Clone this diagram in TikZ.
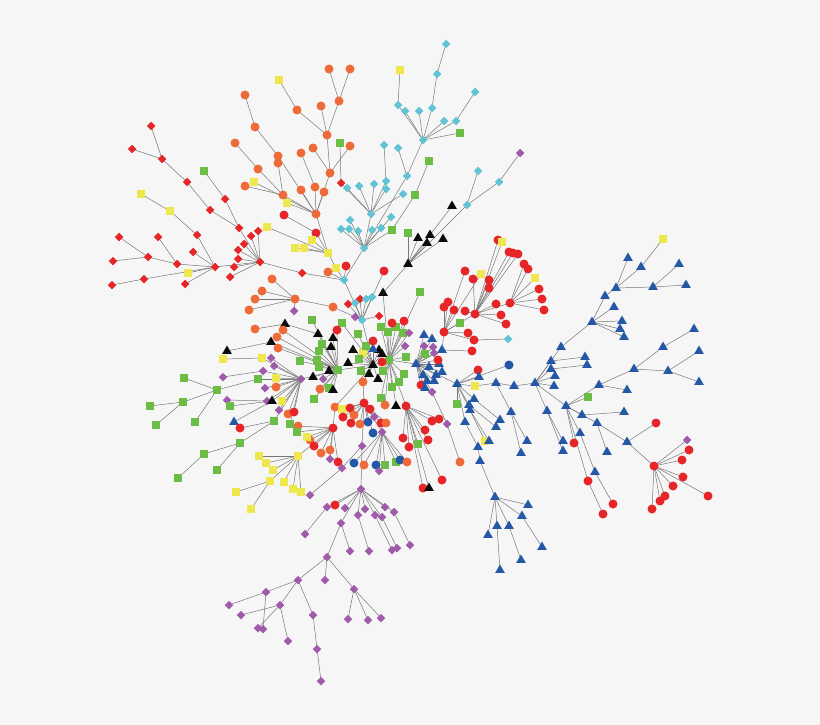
\documentclass[tikz,border=0pt]{standalone}
\usetikzlibrary{shapes.geometric}
\definecolor{cR}{RGB}{229,37,40}
\definecolor{cO}{RGB}{238,106,56}
\definecolor{cY}{RGB}{238,232,78}
\definecolor{cG}{RGB}{108,189,69}
\definecolor{cC}{RGB}{96,196,210}
\definecolor{cP}{RGB}{160,90,170}
\definecolor{cB}{RGB}{36,87,166}
\definecolor{cK}{RGB}{10,10,10}
\definecolor{bgc}{RGB}{246,246,246}
\definecolor{edgec}{RGB}{120,120,120}
\tikzset{
 base/.style={inner sep=0pt, outer sep=0pt, draw=none},
 rc/.style={base, circle, fill=cR, minimum size=9pt},
 oc/.style={base, circle, fill=cO, minimum size=9pt},
 bc/.style={base, circle, fill=cB, minimum size=9pt},
 ys/.style={base, rectangle, fill=cY, minimum size=8pt},
 gs/.style={base, rectangle, fill=cG, minimum size=8pt},
 rd/.style={base, diamond, fill=cR, minimum size=8.5pt},
 cd/.style={base, diamond, fill=cC, minimum size=8.5pt},
 pd/.style={base, diamond, fill=cP, minimum size=8.5pt},
 bt/.style={base, regular polygon, regular polygon sides=3, fill=cB, minimum size=11pt},
 kt/.style={base, regular polygon, regular polygon sides=3, fill=cK, minimum size=11pt},
 edge/.style={draw=edgec, line width=0.5pt}
}
\newcommand\Nedge[5]{\coordinate (#1) at (#2,#3);\ifx\relax#5\relax\else\draw[edge] (#5) -- (#1);\fi}
\newcommand\Nnode[5]{\node[#4] (#1) at (#2,#3) {};}
\newcommand\graphlist{%
\N{G1}{389}{360}{gs}{}
\N{B1}{373}{365}{kt}{G1}
\N{B2}{338}{370}{gs}{B1}
\N{HC}{362}{320}{cd}{B1}
\N{P1}{301}{379}{pd}{B2}
\N{BL1}{416}{364}{bt}{G1}
\N{R1}{406}{406}{rc}{G1}
\N{o363}{363}{382}{oc}{B1}
\N{R2}{364}{403}{rc}{o363}
\N{o335}{335}{407}{oc}{B1}
\N{R4}{333}{428}{rc}{o335}
\N{Y1}{298}{456}{ys}{R4}
\N{p382}{382}{432}{pd}{R2}
\N{p362}{362}{446}{pd}{R2}
\N{P2}{361}{489}{pd}{p362}
\N{c344}{344}{280}{cd}{HC}
\N{y336}{336}{268}{ys}{c344}
\N{y328}{328}{253}{ys}{y336}
\N{O1}{316}{214}{oc}{y328}
\N{C3}{364}{248}{cd}{c344}
\N{C2}{371}{214}{cd}{C3}
\N{c407}{407}{176}{cd}{C3}
\N{C1}{423}{140}{cd}{c407}
\N{rd302}{302}{273}{rd}{c344}
\N{RD1}{260}{262}{rd}{rd302}
\N{o333}{333}{307}{oc}{HC}
\N{O2}{295}{299}{oc}{o333}
\N{k383}{383}{293}{kt}{G1}
\N{BK2}{408}{264}{kt}{k383}
\N{a1}{348}{304}{rd}{HC}
\N{a2}{355}{303}{cd}{HC}
\N{a3}{360}{299}{rd}{HC}
\N{a4}{366}{299}{cd}{HC}
\N{a5}{372}{297}{cd}{HC}
\N{a6}{355}{317}{pd}{HC}
\N{a7}{379}{316}{rd}{HC}
\N{a8}{384}{271}{rc}{HC}
\N{a9}{346}{266}{rc}{c344}
\N{a10}{328}{272}{oc}{c344}
\N{g1}{381}{327}{gs}{G1}
\N{g2}{388}{332}{gs}{G1}
\N{g3}{396}{327}{gs}{G1}
\N{g4}{403}{333}{gs}{G1}
\N{g5}{392}{323}{rc}{G1}
\N{g6}{404}{321}{rc}{G1}
\N{g7}{409}{333}{pd}{G1}
\N{g8}{405}{346}{pd}{G1}
\N{g9}{406}{357}{gs}{G1}
\N{g10}{404}{374}{gs}{G1}
\N{g11}{399}{382}{gs}{G1}
\N{g12}{392}{387}{gs}{G1}
\N{g13}{381}{398}{gs}{G1}
\N{g14}{385}{405}{oc}{G1}
\N{g15}{396}{406}{kt}{G1}
\N{g16}{420}{292}{gs}{G1}
\N{g17}{382}{362}{rc}{G1}
\N{g18}{383}{371}{gs}{G1}
\N{b1}{369}{374}{kt}{B1}
\N{b2}{378}{379}{kt}{B1}
\N{b3}{379}{350}{kt}{B1}
\N{b4}{382}{354}{kt}{B1}
\N{b5}{373}{349}{bt}{B1}
\N{b6}{363}{353}{ys}{B1}
\N{b7}{366}{346}{gs}{B1}
\N{b8}{353}{350}{kt}{B1}
\N{b9}{359}{359}{gs}{B1}
\N{b10}{348}{363}{kt}{B1}
\N{b11}{361}{371}{gs}{B1}
\N{b12}{358}{334}{gs}{B1}
\N{b13}{373}{341}{rc}{B1}
\N{b14}{342}{323}{gs}{B1}
\N{d1}{333}{338}{kt}{B2}
\N{d2}{331}{347}{kt}{B2}
\N{d3}{322}{344}{gs}{B2}
\N{d4}{319}{351}{gs}{B2}
\N{d5}{317}{360}{gs}{B2}
\N{d6}{319}{367}{gs}{B2}
\N{d7}{329}{371}{kt}{B2}
\N{d8}{313}{377}{kt}{B2}
\N{d9}{323}{379}{pd}{B2}
\N{d10}{320}{389}{oc}{B2}
\N{d11}{329}{388}{gs}{B2}
\N{d12}{333}{390}{kt}{B2}
\N{d13}{314}{399}{gs}{B2}
\N{d14}{337}{330}{rc}{B2}
\N{d15}{312}{320}{gs}{B2}
\N{d16}{318}{334}{kt}{B2}
\N{d17}{285}{324}{kt}{d16}
\N{d18}{255}{329}{oc}{d17}
\N{d19}{283}{330}{oc}{B2}
\N{d20}{277}{337}{oc}{B2}
\N{d21}{271}{342}{kt}{B2}
\N{d22}{227}{351}{kt}{d21}
\N{d23}{278}{348}{oc}{B2}
\N{d24}{300}{361}{gs}{B2}
\N{e1}{271}{358}{pd}{P1}
\N{e2}{262}{358}{ys}{P1}
\N{e3}{223}{359}{ys}{e2}
\N{e4}{274}{366}{pd}{P1}
\N{e5}{263}{371}{pd}{P1}
\N{e6}{223}{377}{pd}{e5}
\N{e7}{258}{379}{gs}{P1}
\N{GL}{217}{390}{gs}{e7}
\N{e8}{276}{378}{ys}{P1}
\N{e9}{276}{387}{oc}{P1}
\N{e10}{265}{388}{pd}{P1}
\N{e11}{267}{401}{pd}{P1}
\N{e12}{227}{400}{pd}{e11}
\N{e13}{272}{401}{kt}{P1}
\N{e14}{230}{406}{gs}{e13}
\N{e15}{234}{422}{bt}{e13}
\N{e16}{282}{401}{ys}{P1}
\N{e17}{279}{410}{pd}{P1}
\N{e18}{274}{421}{gs}{P1}
\N{e19}{240}{428}{rc}{e18}
\N{e20}{240}{443}{gs}{e18}
\N{e21}{288}{414}{oc}{P1}
\N{e22}{294}{412}{rc}{P1}
\N{e23}{290}{424}{gs}{P1}
\N{f1}{184}{378}{gs}{GL}
\N{f2}{183}{402}{gs}{GL}
\N{f3}{150}{406}{gs}{f2}
\N{f4}{156}{425}{gs}{f2}
\N{f5}{195}{422}{gs}{GL}
\N{f6}{204}{454}{gs}{e20}
\N{f7}{178}{478}{gs}{f6}
\N{f8}{217}{470}{gs}{e20}
\N{h1}{272}{279}{oc}{O2}
\N{h2}{262}{291}{oc}{O2}
\N{h3}{255}{299}{oc}{O2}
\N{h4}{249}{310}{oc}{O2}
\N{h5}{294}{311}{pd}{O2}
\N{i1}{310}{440}{oc}{R4}
\N{i2}{314}{446}{rc}{R4}
\N{i3}{321}{453}{oc}{R4}
\N{i4}{330}{450}{oc}{R4}
\N{i5}{330}{459}{pd}{R4}
\N{i6}{338}{462}{rc}{R4}
\N{i7}{307}{437}{ys}{R4}
\N{i8}{298}{426}{oc}{R4}
\N{i9}{297}{432}{gs}{R4}
\N{j1}{342}{409}{ys}{R2}
\N{j2}{350}{408}{rc}{R2}
\N{j3}{343}{417}{rc}{R2}
\N{j4}{351}{423}{rc}{R2}
\N{j5}{360}{424}{oc}{R2}
\N{j6}{368}{422}{bc}{R2}
\N{j7}{373}{433}{bc}{R2}
\N{j8}{374}{417}{pd}{R2}
\N{j9}{381}{423}{rc}{R2}
\N{j10}{386}{423}{oc}{R2}
\N{j11}{354}{415}{oc}{R2}
\N{j12}{370}{409}{rc}{R2}
\N{k1}{354}{463}{bc}{p382}
\N{k2}{364}{465}{oc}{p382}
\N{k3}{376}{465}{bc}{p382}
\N{k4}{379}{471}{pd}{p382}
\N{k5}{385}{465}{gs}{p382}
\N{k6}{396}{462}{gs}{p382}
\N{k7}{400}{460}{bc}{p382}
\N{k8}{407}{462}{oc}{p382}
\N{k9}{342}{468}{pd}{p362}
\N{k10}{310}{495}{pd}{k9}
\N{l1}{259}{456}{ys}{Y1}
\N{l2}{266}{463}{ys}{Y1}
\N{l3}{273}{470}{ys}{Y1}
\N{l4}{270}{481}{ys}{Y1}
\N{l5}{236}{492}{ys}{l4}
\N{l6}{251}{509}{ys}{l4}
\N{l7}{284}{482}{ys}{Y1}
\N{l8}{293}{489}{ys}{Y1}
\N{l9}{301}{492}{ys}{Y1}
\N{m1}{335}{505}{rc}{P2}
\N{m2}{327}{507}{pd}{P2}
\N{m3}{305}{534}{pd}{m2}
\N{m4}{345}{508}{pd}{P2}
\N{m5}{365}{509}{pd}{P2}
\N{m6}{358}{515}{pd}{P2}
\N{m7}{369}{551}{pd}{m6}
\N{m8}{375}{515}{pd}{P2}
\N{m9}{392}{550}{pd}{m8}
\N{m10}{382}{517}{pd}{P2}
\N{m11}{397}{548}{pd}{m10}
\N{m12}{385}{507}{pd}{P2}
\N{m13}{394}{512}{pd}{P2}
\N{m14}{410}{545}{pd}{m13}
\N{m15}{341}{523}{pd}{P2}
\N{m16}{350}{551}{pd}{m15}
\N{m17}{327}{557}{pd}{m15}
\N{m18}{298}{580}{pd}{m17}
\N{m19}{325}{580}{pd}{m17}
\N{m20}{354}{589}{pd}{m17}
\N{m21}{266}{592}{pd}{m18}
\N{m22}{280}{605}{pd}{m18}
\N{m23}{313}{615}{pd}{m18}
\N{m24}{229}{605}{pd}{m21}
\N{m25}{263}{629}{pd}{m21}
\N{m26}{241}{615}{pd}{m22}
\N{m27}{258}{628}{pd}{m22}
\N{m28}{288}{641}{pd}{m22}
\N{m29}{317}{649}{pd}{m23}
\N{m30}{321}{681}{pd}{m29}
\N{m31}{348}{619}{pd}{m20}
\N{m32}{368}{620}{pd}{m20}
\N{m33}{381}{618}{pd}{m20}
\N{n1}{424}{335}{bt}{BL1}
\N{n2}{432}{339}{bt}{BL1}
\N{n3}{442}{350}{bt}{BL1}
\N{n4}{424}{346}{pd}{BL1}
\N{n5}{433}{347}{pd}{BL1}
\N{n6}{434}{353}{pd}{BL1}
\N{n7}{425}{354}{gs}{BL1}
\N{n8}{429}{367}{bt}{BL1}
\N{n9}{439}{364}{bt}{BL1}
\N{n10}{442}{372}{bt}{BL1}
\N{n11}{438}{360}{rc}{BL1}
\N{n12}{421}{385}{rc}{BL1}
\N{n13}{423}{375}{bt}{BL1}
\N{n14}{436}{375}{bt}{BL1}
\N{n15}{434}{381}{bt}{BL1}
\N{n16}{427}{381}{bt}{BL1}
\N{n17}{425}{388}{bt}{BL1}
\N{n18}{432}{392}{pd}{BL1}
\N{n19}{447}{424}{pd}{n18}
\N{n20}{460}{462}{oc}{n19}
\N{BL3}{457}{384}{bt}{BL1}
\N{RC1}{444}{332}{rc}{n3}
\N{r1}{444}{307}{rc}{RC1}
\N{r2}{448}{302}{rc}{RC1}
\N{r3}{454}{310}{rc}{RC1}
\N{r4}{460}{323}{gs}{RC1}
\N{r5}{468}{333}{rc}{RC1}
\N{r6}{474}{340}{rc}{RC1}
\N{r7}{508}{339}{cd}{r6}
\N{r8}{465}{271}{rc}{RC1}
\N{r9}{481}{274}{ys}{RC1}
\N{r10}{472}{351}{rc}{n3}
\N{RC2}{475}{314}{rc}{RC1}
\N{r11}{465}{311}{rc}{RC2}
\N{r12}{473}{279}{rc}{RC2}
\N{r13}{489}{280}{rc}{RC2}
\N{r14}{489}{288}{rc}{RC2}
\N{r15}{498}{240}{rc}{RC2}
\N{r16}{502}{242}{ys}{RC2}
\N{r17}{509}{252}{rc}{RC2}
\N{r18}{513}{253}{rc}{RC2}
\N{r19}{518}{254}{rc}{RC2}
\N{r20}{496}{304}{rc}{RC2}
\N{r21}{501}{315}{rc}{RC2}
\N{r22}{506}{324}{rc}{RC2}
\N{RC3}{510}{303}{rc}{RC2}
\N{r23}{524}{264}{rc}{RC3}
\N{r24}{528}{269}{rc}{RC3}
\N{r25}{535}{278}{ys}{RC3}
\N{r26}{539}{289}{rc}{RC3}
\N{r27}{542}{299}{rc}{RC3}
\N{r28}{544}{310}{rc}{RC3}
\N{s1}{478}{370}{rc}{BL3}
\N{s2}{479}{377}{bt}{BL3}
\N{s3}{509}{365}{bc}{BL3}
\N{s4}{475}{386}{ys}{BL3}
\N{s5}{496}{383}{bt}{s4}
\N{s6}{514}{386}{bt}{s5}
\N{BL2}{535}{383}{bt}{s6}
\N{s7}{457}{404}{gs}{BL3}
\N{s8}{474}{399}{bt}{BL3}
\N{s9}{500}{420}{bt}{s8}
\N{s10}{469}{405}{bt}{BL3}
\N{s11}{496}{427}{bt}{s10}
\N{s12}{470}{410}{bt}{BL3}
\N{s14}{485}{441}{ys}{s12}
\N{s13}{489}{441}{bt}{s12}
\N{s15}{465}{422}{bt}{BL3}
\N{s16}{478}{447}{bt}{s15}
\N{s17}{480}{461}{bt}{s16}
\N{s18}{495}{497}{bt}{s17}
\N{s19}{528}{505}{bt}{s18}
\N{s20}{522}{516}{bt}{s18}
\N{s21}{542}{547}{bt}{s20}
\N{s22}{497}{526}{bt}{s18}
\N{s23}{500}{570}{bt}{s22}
\N{s24}{509}{526}{bt}{s18}
\N{s25}{521}{560}{bt}{s24}
\N{s26}{488}{535}{bt}{s18}
\N{s27}{511}{412}{bt}{s5}
\N{s28}{527}{441}{bt}{s27}
\N{s29}{521}{453}{bt}{s27}
\N{t1}{551}{361}{bt}{BL2}
\N{t2}{585}{357}{bt}{t1}
\N{t3}{551}{369}{bt}{BL2}
\N{t4}{587}{365}{bt}{t3}
\N{t5}{555}{376}{bt}{BL2}
\N{t6}{554}{386}{bt}{BL2}
\N{t7}{561}{347}{bt}{BL2}
\N{BL4}{592}{322}{bt}{t7}
\N{t8}{547}{411}{bt}{BL2}
\N{t9}{563}{441}{bt}{t8}
\N{t10}{563}{451}{bt}{t8}
\N{BL5}{566}{406}{bt}{BL2}
\N{u1}{605}{296}{bt}{BL4}
\N{u2}{616}{288}{bt}{u1}
\N{u3}{628}{258}{bt}{u2}
\N{u4}{641}{267}{bt}{u2}
\N{u5}{663}{239}{ys}{u4}
\N{u6}{653}{287}{bt}{u2}
\N{u7}{679}{264}{bt}{u6}
\N{u8}{686}{285}{bt}{u6}
\N{u9}{614}{307}{bt}{BL4}
\N{u10}{622}{321}{bt}{BL4}
\N{u11}{620}{329}{bt}{BL4}
\N{u12}{624}{337}{bt}{BL4}
\N{v1}{588}{397}{gs}{BL5}
\N{v2}{599}{385}{bt}{BL5}
\N{v3}{634}{369}{bt}{v2}
\N{v4}{663}{347}{bt}{v3}
\N{v5}{694}{329}{bt}{v4}
\N{v6}{668}{371}{bt}{v3}
\N{v7}{699}{351}{bt}{v6}
\N{v8}{699}{382}{bt}{v6}
\N{v9}{627}{390}{bt}{v2}
\N{v10}{582}{415}{bt}{BL5}
\N{v11}{624}{412}{bt}{v10}
\N{v12}{597}{423}{bt}{BL5}
\N{v13}{627}{442}{bt}{v12}
\N{v14}{656}{423}{rc}{v13}
\N{v15}{607}{452}{bt}{v12}
\N{R3}{654}{466}{rc}{v13}
\N{v16}{574}{443}{rc}{BL5}
\N{v17}{580}{433}{bt}{BL5}
\N{v18}{595}{472}{bt}{v17}
\N{v19}{613}{504}{rc}{v18}
\N{v20}{588}{481}{rc}{BL5}
\N{v21}{603}{514}{rc}{v20}
\N{w1}{687}{440}{pd}{R3}
\N{w2}{689}{450}{rc}{R3}
\N{w3}{682}{460}{rc}{R3}
\N{w4}{683}{477}{rc}{R3}
\N{w5}{673}{486}{rc}{R3}
\N{w6}{708}{496}{rc}{R3}
\N{w7}{665}{496}{rc}{R3}
\N{w8}{660}{501}{rc}{R3}
\N{w9}{652}{509}{rc}{R3}
\N{x1}{432}{421}{rc}{R1}
\N{x2}{439}{419}{rc}{R1}
\N{x3}{425}{430}{rc}{R1}
\N{x4}{428}{440}{rc}{R1}
\N{x5}{403}{438}{rc}{R1}
\N{x6}{409}{447}{rc}{R1}
\N{x7}{418}{444}{gs}{R1}
\N{x8}{442}{480}{rc}{R1}
\N{x9}{423}{488}{rc}{R1}
\N{x10}{429}{488}{kt}{R1}
\N{y1}{408}{233}{gs}{BK2}
\N{y2}{418}{238}{kt}{BK2}
\N{y3}{427}{243}{kt}{BK2}
\N{y4}{430}{235}{kt}{BK2}
\N{y5}{443}{239}{kt}{BK2}
\N{y6}{452}{206}{kt}{BK2}
\N{y7}{467}{205}{cd}{BK2}
\N{y8}{478}{171}{cd}{y7}
\N{y9}{499}{182}{cd}{y7}
\N{y10}{520}{153}{pd}{y9}
\N{z1}{398}{105}{cd}{C1}
\N{z2}{400}{70}{ys}{z1}
\N{z3}{405}{111}{cd}{C1}
\N{z4}{419}{111}{cd}{C1}
\N{z5}{432}{108}{cd}{C1}
\N{z6}{437}{74}{cd}{z5}
\N{z7}{446}{44}{cd}{z6}
\N{z8}{444}{121}{cd}{C1}
\N{z9}{456}{121}{cd}{C1}
\N{z10}{475}{92}{cd}{z9}
\N{z11}{460}{133}{gs}{C1}
\N{z12}{398}{148}{cd}{c407}
\N{z13}{347}{188}{cd}{C2}
\N{z14}{359}{186}{cd}{C2}
\N{z15}{374}{184}{cd}{C2}
\N{z16}{386}{181}{cd}{C2}
\N{z17}{384}{145}{cd}{z16}
\N{z18}{386}{189}{cd}{C2}
\N{z19}{403}{194}{cd}{C2}
\N{z20}{341}{183}{rd}{C2}
\N{z21}{340}{143}{gs}{z20}
\N{z22}{350}{220}{cd}{C3}
\N{z23}{341}{229}{cd}{C3}
\N{z24}{349}{229}{cd}{C3}
\N{z25}{358}{231}{cd}{C3}
\N{z26}{372}{230}{cd}{C3}
\N{z27}{381}{228}{cd}{C3}
\N{z28}{391}{217}{cd}{C3}
\N{z29}{392}{230}{gs}{C3}
\N{z30}{415}{195}{gs}{z29}
\N{z31}{429}{161}{gs}{z30}
\N{o1}{330}{173}{oc}{O1}
\N{o2}{327}{135}{oc}{o1}
\N{o3}{339}{101}{oc}{o2}
\N{o4}{329}{69}{oc}{o3}
\N{o5}{350}{69}{oc}{o3}
\N{o6}{321}{106}{oc}{o2}
\N{o7}{297}{110}{oc}{o2}
\N{o8}{279}{80}{ys}{o7}
\N{o9}{313}{148}{oc}{o1}
\N{o10}{350}{146}{oc}{o1}
\N{o11}{315}{187}{oc}{O1}
\N{o12}{301}{153}{oc}{o11}
\N{o13}{324}{192}{oc}{O1}
\N{o14}{283}{195}{oc}{O1}
\N{o15}{278}{163}{oc}{o14}
\N{o16}{258}{169}{oc}{o14}
\N{o17}{235}{143}{oc}{o16}
\N{o18}{245}{186}{oc}{o14}
\N{o19}{287}{203}{ys}{O1}
\N{o20}{301}{190}{oc}{O1}
\N{o21}{254}{182}{ys}{O1}
\N{o22}{278}{156}{oc}{O1}
\N{o23}{255}{127}{oc}{o22}
\N{o24}{245}{95}{oc}{o23}
\N{q1}{316}{233}{rc}{y328}
\N{q2}{284}{215}{rc}{q1}
\N{q3}{312}{240}{ys}{y328}
\N{q4}{295}{248}{ys}{y328}
\N{q5}{304}{248}{ys}{y328}
\N{q6}{267}{227}{ys}{y328}
\N{rA}{239}{228}{rd}{RD1}
\N{rB}{210}{210}{rd}{rA}
\N{rC}{187}{182}{rd}{rB}
\N{rD}{162}{159}{rd}{rC}
\N{rE}{151}{126}{rd}{rD}
\N{rF}{132}{149}{rd}{rD}
\N{rG}{225}{199}{rd}{rA}
\N{rH}{204}{171}{gs}{rG}
\N{rI}{258}{231}{rd}{RD1}
\N{rJ}{251}{236}{rd}{RD1}
\N{rK}{244}{244}{rd}{RD1}
\N{rL}{238}{250}{rd}{RD1}
\N{rM}{238}{259}{rd}{RD1}
\N{rN}{234}{267}{rd}{RD1}
\N{rO}{230}{277}{rd}{RD1}
\N{rP}{215}{267}{rd}{RD1}
\N{rQ}{197}{235}{rd}{rP}
\N{rR}{170}{211}{ys}{rQ}
\N{rS}{141}{194}{ys}{rR}
\N{rT}{193}{252}{rd}{rP}
\N{rU}{177}{264}{rd}{rP}
\N{rV}{148}{257}{rd}{rU}
\N{rW}{119}{237}{rd}{rV}
\N{rX}{158}{237}{rd}{rU}
\N{rY}{113}{261}{rd}{rV}
\N{rZ}{185}{284}{rd}{rP}
\N{rAA}{144}{279}{rd}{rP}
\N{rAB}{112}{285}{rd}{rAA}
\N{rAC}{188}{273}{ys}{rP}
}
\begin{document}
\begin{tikzpicture}[x=1pt,y=-1pt]
\fill[bgc] (0,0) rectangle (820,725);
\useasboundingbox (0,0) rectangle (820,725);
\let\N\Nedge
\graphlist
\let\N\Nnode
\graphlist
\end{tikzpicture}
\end{document}
